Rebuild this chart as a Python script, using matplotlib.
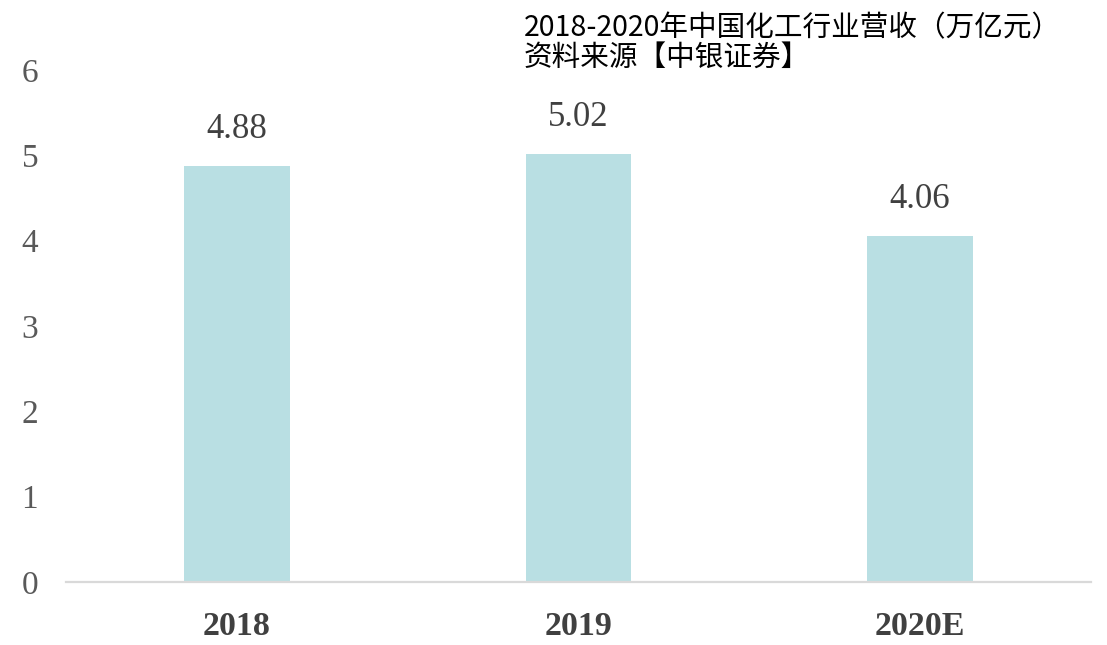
import matplotlib
matplotlib.use("Agg")
import matplotlib.pyplot as plt

categories = ["2018", "2019", "2020E"]
values = [4.88, 5.02, 4.06]
yticks = [0, 1, 2, 3, 4, 5, 6]

fig = plt.figure(figsize=(11.07, 6.45), dpi=100)
ax = fig.add_axes([66/1107, (645-582)/645, (1091-66)/1107, 512/645])

x = list(range(len(categories)))
ax.bar(x, values, width=0.31, color="#B9DFE3", zorder=2)
ax.set_xlim(-0.5, 2.5)
ax.set_ylim(0, 6)
ax.set_yticks(yticks)
ax.set_yticklabels([str(t) for t in yticks], family="Liberation Serif", fontsize=24, color="#595959")
ax.set_xticks(x)
ax.set_xticklabels(categories, family="Liberation Serif", fontsize=24.5, fontweight="bold", color="#404040")
ax.tick_params(axis="both", length=0)
ax.tick_params(axis="y", pad=20)
ax.tick_params(axis="x", pad=21)
for s in ["top", "right", "left"]:
    ax.spines[s].set_visible(False)
ax.spines["bottom"].set_color("#D9D9D9")
ax.spines["bottom"].set_linewidth(1.6)

for xi, v in zip(x, values):
    ax.annotate(f"{v:.2f}", (xi, v), xytext=(0, 14), textcoords="offset points",
                ha="center", va="bottom", family="Liberation Serif", fontsize=25, color="#404040")

fig.text(524/1107, 1 - 36/645, "2018-2020年中国化工行业营收（万亿元）", family=["Noto Sans CJK SC", "DejaVu Sans"],
         fontsize=20.6, color="black", ha="left", va="baseline")
fig.text(524/1107, 1 - 66/645, "资料来源【中银证券】", family=["Noto Sans CJK SC", "DejaVu Sans"],
         fontsize=20.6, color="black", ha="left", va="baseline")

fig.savefig("out.png", dpi=100)
